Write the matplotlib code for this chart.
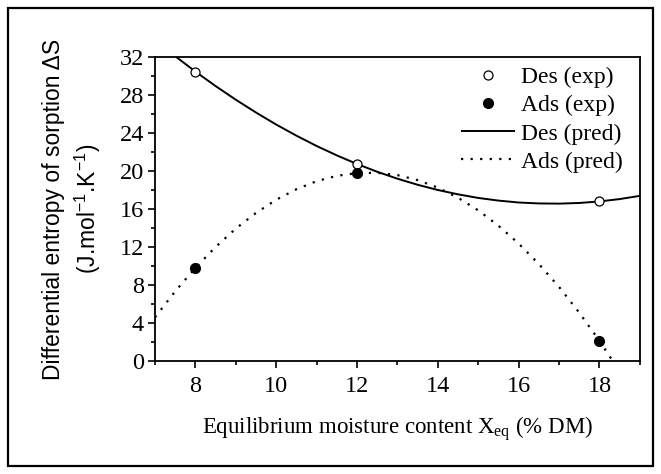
import matplotlib
matplotlib.use("Agg")
import matplotlib.pyplot as plt
from matplotlib.patches import Rectangle
from matplotlib.ticker import MultipleLocator

# Experimental data
x_exp = [8, 12, 18]
des_exp = [30.5, 20.75, 16.8]
ads_exp = [9.8, 19.8, 2.1]

# Predicted curves
x_pred = [7.0, 7.5, 8.0, 8.5, 9.0, 9.5, 10.0, 10.5, 11.0, 11.5, 12.0, 12.5,
          13.0, 13.5, 14.0, 14.5, 15.0, 15.5, 16.0, 16.5, 17.0, 17.5, 18.0,
          18.5, 19.0]
des_pred = [33.83, 32.12, 30.5, 28.97, 27.53, 26.18, 24.91, 23.74, 22.65,
            21.66, 20.75, 19.93, 19.20, 18.56, 18.01, 17.55, 17.17, 16.89,
            16.69, 16.59, 16.57, 16.64, 16.8, 17.05, 17.39]
ads_pred = [4.58, 7.32, 9.8, 12.00, 13.94, 15.59, 16.98, 18.09, 18.94,
            19.50, 19.8, 19.82, 19.58, 19.05, 18.26, 17.19, 15.86, 14.24,
            12.36, 10.20, 7.78, 5.07, 2.1, -1.15, -4.6]

x_ticks = [8, 10, 12, 14, 16, 18]
y_ticks = [0, 4, 8, 12, 16, 20, 24, 28, 32]

serif = "Liberation Serif"
sans = "Liberation Sans"

fig = plt.figure(figsize=(6.61, 4.74), dpi=100)
ax = fig.add_axes([0.2345, 0.239, 0.7335, 0.640])

ax.plot(x_pred, des_pred, color="black", lw=1.4, solid_capstyle="butt",
        label="Des (pred)")
ax.plot(x_pred, ads_pred, color="black", lw=1.6, linestyle=(0, (1, 3.3)),
        label="Ads (pred)")
ax.plot(x_exp, des_exp, linestyle="none", marker="o", ms=6.5,
        mfc="white", mec="black", mew=0.9, label="Des (exp)", zorder=3)
ax.plot(x_exp, ads_exp, linestyle="none", marker="o", ms=7,
        mfc="black", mec="black", label="Ads (exp)", zorder=3)

ax.set_xlim(7, 19)
ax.set_ylim(0, 32)
ax.set_xticks(x_ticks)
ax.set_yticks(y_ticks)
ax.xaxis.set_minor_locator(MultipleLocator(1))
ax.yaxis.set_minor_locator(MultipleLocator(2))
ax.tick_params(which="major", direction="out", length=5, width=1.2,
               labelsize=17.5, pad=3)
ax.tick_params(axis="x", which="major", pad=6)
ax.tick_params(which="minor", direction="out", length=3, width=1.2)
ax.tick_params(top=False, right=False, which="both")
for lab in ax.get_xticklabels() + ax.get_yticklabels():
    lab.set_fontfamily(serif)
for s in ax.spines.values():
    s.set_linewidth(1.3)

ax.set_xlabel("Equilibrium moisture content X$_{\\mathregular{eq}}$ (% DM)",
              fontfamily=serif, fontsize=16.5, labelpad=13)
ax.set_ylabel("Differential entropy of sorption \u0394S\n(J.mol$^{\\mathregular{-1}}$.K$^{\\mathregular{-1}}$)",
              fontfamily=sans, fontsize=16.5, linespacing=1.35, labelpad=12)

handles, labels = ax.get_legend_handles_labels()
order = [2, 3, 0, 1]
leg = ax.legend([handles[i] for i in order], [labels[i] for i in order],
                loc="upper right", bbox_to_anchor=(0.985, 1.0),
                frameon=False, handlelength=2.3,
                handletextpad=0.25, labelspacing=0.28, borderaxespad=0.0,
                prop={"family": serif, "size": 17})

fig.patches.append(Rectangle((8 / 661, 8 / 474), 645 / 661, 458 / 474,
                             transform=fig.transFigure, fill=False,
                             edgecolor="black", lw=1.6))

fig.savefig("out.png", dpi=100)
